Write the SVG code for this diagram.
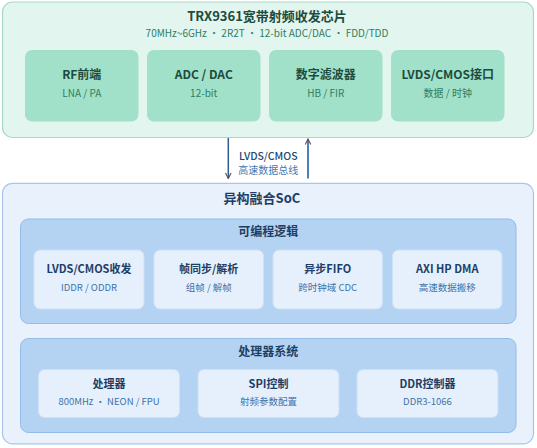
<svg xmlns="http://www.w3.org/2000/svg" width="537" height="448" viewBox="0 0 537 448">
<defs>
<style>
text{font-family:"Noto Sans CJK SC","Noto Sans",sans-serif;text-anchor:middle}
.gOuter{fill:#e3f5ef;stroke:#a7d9c6;stroke-width:1.2}
.gBox{fill:#a1e1ca;stroke:none}
.gT{fill:#1c4c3d;font-weight:bold}
.gS{fill:#2f7d61}
.bOuter{fill:#e8f1fc;stroke:#a7c7ea;stroke-width:1.2}
.bGroup{fill:#b4d3f3;stroke:#93bce8;stroke-width:1}
.bBox{fill:#e6f0fc;stroke:#cde0f5;stroke-width:1}
.bT{fill:#1d3e66;font-weight:bold}
.bS{fill:#3d72aa}
.t13{font-size:13px}
.t12{font-size:12px}
.t11{font-size:11px}
.t10{font-size:10px}
.t95{font-size:9.5px}
</style>
<marker id="chev" viewBox="0 0 10 10" refX="9" refY="5" markerWidth="7" markerHeight="7" orient="auto" markerUnits="userSpaceOnUse">
<path d="M1,1 L9,5 L1,9" fill="none" stroke="#555" stroke-width="1.6"/>
</marker>
</defs>

<g id="chip">
<rect class="gOuter" x="2.5" y="2" width="531" height="135.5" rx="10"/>
<text class="gT t13" x="267" y="21.3">TRX9361宽带射频收发芯片</text>
<text class="gS t10" x="267" y="36.8">70MHz~6GHz  ·  2R2T  ·  12-bit ADC/DAC  ·  FDD/TDD</text>
</g>
<g id="rf">
<rect class="gBox" x="25" y="50" width="113.5" height="71.5" rx="7"/>
<text class="gT t12" x="81.75" y="79.2">RF前端</text>
<text class="gS t10" x="81.75" y="96.8">LNA / PA</text>
</g>
<g id="adc">
<rect class="gBox" x="147" y="50" width="113.5" height="71.5" rx="7"/>
<text class="gT t12" x="203.75" y="79.2">ADC / DAC</text>
<text class="gS t10" x="203.75" y="96.8">12-bit</text>
</g>
<g id="filter">
<rect class="gBox" x="269" y="50" width="113.5" height="71.5" rx="7"/>
<text class="gT t12" x="325.75" y="79.2">数字滤波器</text>
<text class="gS t10" x="325.75" y="96.8">HB / FIR</text>
</g>
<g id="lvds-if">
<rect class="gBox" x="391" y="50" width="113.5" height="71.5" rx="7"/>
<text class="gT t12" x="447.75" y="79.2">LVDS/CMOS接口</text>
<text class="gS t10" x="447.75" y="96.8">数据 / 时钟</text>
</g>

<g id="connectors">
<line x1="228.3" y1="138" x2="228.3" y2="178.5" stroke="#2e5b8a" stroke-width="1.5" marker-end="url(#chev)"/>
<line x1="308" y1="178.5" x2="308" y2="139" stroke="#4c82ba" stroke-width="2" marker-end="url(#chev)"/>
<text class="t10" x="268.3" y="159.7" style="font-size:10.5px;fill:#244a73;font-weight:500">LVDS/CMOS</text>
<text class="t10" x="268.3" y="174.2" style="fill:#3f77b0">高速数据总线</text>
</g>

<g id="soc">
<rect class="bOuter" x="2.5" y="183.3" width="531" height="260.5" rx="10"/>
<text class="bT t13" x="262" y="202.8">异构融合SoC</text>
</g>
<g id="pl">
<rect class="bGroup" x="20.5" y="219" width="495.5" height="104.5" rx="8"/>
<text class="bT t12" x="268.3" y="235.9">可编程逻辑</text>
</g>
<g id="lvds-trx">
<rect class="bBox" x="34" y="250" width="110" height="59" rx="6"/>
<text class="bT t11" x="89" y="273.3">LVDS/CMOS收发</text>
<text class="bS t95" x="89" y="290.8">IDDR / ODDR</text>
</g>
<g id="frame">
<rect class="bBox" x="154" y="250" width="109.5" height="59" rx="6"/>
<text class="bT t11" x="208.75" y="273.3">帧同步/解析</text>
<text class="bS t95" x="208.75" y="290.8">组帧 / 解帧</text>
</g>
<g id="fifo">
<rect class="bBox" x="273" y="250" width="109.5" height="59" rx="6"/>
<text class="bT t11" x="327.75" y="273.3">异步FIFO</text>
<text class="bS t95" x="327.75" y="290.8">跨时钟域 CDC</text>
</g>
<g id="dma">
<rect class="bBox" x="392.5" y="250" width="109.5" height="59" rx="6"/>
<text class="bT t11" x="447.25" y="273.3">AXI HP DMA</text>
<text class="bS t95" x="447.25" y="290.8">高速数据搬移</text>
</g>

<g id="ps">
<rect class="bGroup" x="20.5" y="338.5" width="495.5" height="94" rx="8"/>
<text class="bT t12" x="268.3" y="355.9">处理器系统</text>
</g>
<g id="cpu">
<rect class="bBox" x="38.5" y="369.5" width="141" height="48" rx="6"/>
<text class="bT t11" x="109" y="388.1">处理器</text>
<text class="bS t95" x="109" y="404.5">800MHz  ·  NEON / FPU</text>
</g>
<g id="spi">
<rect class="bBox" x="198" y="369.5" width="141" height="48" rx="6"/>
<text class="bT t11" x="268.5" y="388.1">SPI控制</text>
<text class="bS t95" x="268.5" y="404.5">射频参数配置</text>
</g>
<g id="ddr">
<rect class="bBox" x="357" y="369.5" width="141" height="48" rx="6"/>
<text class="bT t11" x="427.5" y="388.1">DDR控制器</text>
<text class="bS t95" x="427.5" y="404.5">DDR3-1066</text>
</g>
</svg>
